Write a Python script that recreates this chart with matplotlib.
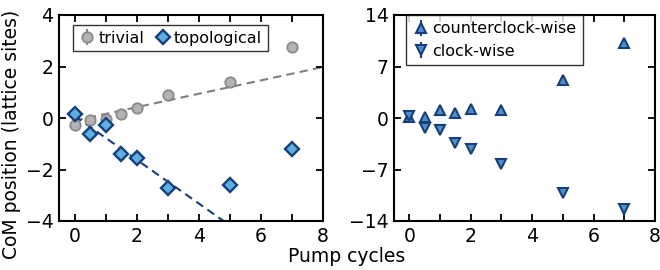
import numpy as np
import matplotlib
matplotlib.use("Agg")
import matplotlib.pyplot as plt
from matplotlib.ticker import FixedLocator

cycles = [0, 0.5, 1, 1.5, 2, 3, 5, 7]
trivial = [-0.26, -0.08, -0.03, 0.14, 0.38, 0.9, 1.4, 2.75]
trivial_err = [0.12, 0.08, 0.08, 0.08, 0.08, 0.1, 0.12, 0.15]
topological = [0.16, -0.61, -0.29, -1.4, -1.56, -2.71, -2.59, -1.22]
topological_err = [0.08, 0.08, 0.08, 0.08, 0.08, 0.08, 0.08, 0.08]
ccw = [0.15, 0.1, 1.13, 0.73, 1.18, 1.09, 5.2, 10.2]
cw = [0.27, -1.3, -1.63, -3.45, -4.17, -6.3, -10.25, -12.4]
ccw_err = [0.3] * 8
cw_err = [0.3] * 8

trivial_fit = (0.26, -0.1)      # slope, intercept
trivial_fit_range = (0, 8)
topo_fit = (-0.85, 0.08)
topo_fit_range = (0, 4.8)

plt.rcParams['font.family'] = ['DejaVu Sans']

FS = 13.5
LFS = 11.5
fig = plt.figure(figsize=(6.6, 2.7), dpi=100)
ax1 = fig.add_axes([59/660, 1-221/270, 264/660, 206/270])
ax2 = fig.add_axes([394/660, 1-221/270, 261/660, 206/270])

navy = '#173f7c'
gray_face = '#b3b3b3'
gray_edge = '#8a8a8a'

xs = np.array(trivial_fit_range)
ax1.plot(xs, trivial_fit[0]*xs + trivial_fit[1], '--', color='#808080', lw=1.5, dashes=(4, 2.5), zorder=1)
xs = np.array(topo_fit_range)
ax1.plot(xs, topo_fit[0]*xs + topo_fit[1], '--', color=navy, lw=1.5, dashes=(4, 2.5), zorder=1)

ax1.errorbar(cycles, trivial, yerr=trivial_err, fmt='o', ms=7.5, mfc=gray_face, mec=gray_edge,
             mew=1.3, ecolor=gray_edge, elinewidth=1.5, capsize=0, label='trivial', zorder=3)
ax1.errorbar(cycles, topological, yerr=topological_err, fmt='D', ms=7.5, mfc='#5dafe0', mec=navy,
             mew=1.7, ecolor=navy, elinewidth=1.5, capsize=0, label='topological', zorder=4)

ax2.errorbar(cycles, ccw, yerr=ccw_err, fmt='^', ms=7.5, mfc='#4f8fcb', mec=navy, mew=1.5,
             ecolor=navy, elinewidth=1.5, capsize=0, label='counterclock-wise', zorder=3)
ax2.errorbar(cycles, cw, yerr=cw_err, fmt='v', ms=7.5, mfc='#4f8fcb', mec=navy, mew=1.5,
             ecolor=navy, elinewidth=1.5, capsize=0, label='clock-wise', zorder=3)

ax1.set_xlim(-0.5, 8)
ax1.set_ylim(-4, 4)
ax1.set_yticks([-4, -2, 0, 2, 4])
ax1.set_yticklabels(['\u22124', '\u22122', '0', '2', '4'])
ax2.set_xlim(-0.5, 8)
ax2.set_ylim(-14, 14)
ax2.set_yticks([-14, -7, 0, 7, 14])
ax2.set_yticklabels(['\u221214', '\u22127', '0', '7', '14'])

for ax in (ax1, ax2):
    ax.set_xticks([0, 2, 4, 6, 8])
    ax.xaxis.set_minor_locator(FixedLocator([1, 3, 5, 7]))
    ax.tick_params(which='both', direction='in', top=True, right=True, length=5, width=1.3,
                   labelsize=FS, pad=4)
    for s in ax.spines.values():
        s.set_linewidth(1.5)

fig.text(12/660, 1-134/270, 'CoM position (lattice sites)', rotation=90, ha='center', va='center', fontsize=FS)
fig.text(347/660, 4/270, 'Pump cycles', ha='center', va='bottom', fontsize=FS)

leg1 = ax1.legend(loc='upper left', ncol=2, frameon=True, fancybox=False, fontsize=LFS,
                  handletextpad=0.15, columnspacing=0.6, borderpad=0.35, handlelength=1.1,
                  bbox_to_anchor=((73-59)/264, 1-(25-15)/206), borderaxespad=0.)
leg1.get_frame().set_edgecolor('black')
leg1.get_frame().set_linewidth(1.0)
leg2 = ax2.legend(loc='upper left', ncol=1, frameon=True, fancybox=False, fontsize=LFS,
                  handletextpad=0.15, borderpad=0.4, handlelength=1.1, labelspacing=0.45,
                  bbox_to_anchor=((406-394)/261, 1.0), borderaxespad=0.)
leg2.get_frame().set_edgecolor('black')
leg2.get_frame().set_linewidth(1.0)

fig.savefig('out.png', dpi=100)
